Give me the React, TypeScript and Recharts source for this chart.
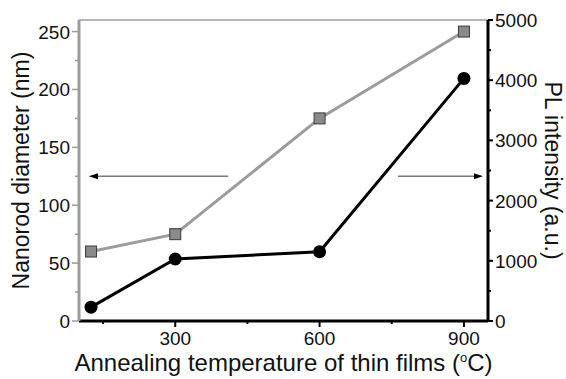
import React from 'react';
import { LineChart, Line, XAxis, YAxis, ReferenceLine, Label } from 'recharts';

// annealing temperature (°C), first point is the low-temperature film
const temperatures = [125, 300, 600, 900];
const nanorodDiameter = [60, 75, 175, 250]; // nm, left axis
const plIntensity = [230, 1030, 1150, 4030]; // a.u., right axis

const xTicks = [150, 300, 450, 600, 750, 900];
const xLabelled = [300, 600, 900];
const leftTicks = [0, 25, 50, 75, 100, 125, 150, 175, 200, 225, 250];
const rightTicks = [0, 500, 1000, 1500, 2000, 2500, 3000, 3500, 4000, 4500, 5000];

// arrows pointing to the axis each curve belongs to (data units, left axis)
const leftArrow = [{ x: 410, y: 125 }, { x: 123, y: 125 }];
const rightArrow = [{ x: 763, y: 125 }, { x: 937, y: 125 }];

const data = temperatures.map((t, i) => ({
  temp: t,
  diameter: nanorodDiameter[i],
  pl: plIntensity[i],
}));

const FONT = '"Liberation Sans", Arial, sans-serif';
const GRAY = '#9c9c9c';

const LeftTick = (props: any) => {
  const { x, y, payload } = props;
  const v = payload.value;
  const major = v % 50 === 0;
  const ax = x + 9;
  return (
    <g>
      <line x1={ax} x2={ax - (major ? 7 : 4)} y1={y} y2={y} stroke={GRAY} strokeWidth={1.5} />
      {major && (
        <text x={x} y={y} dy={7} textAnchor="end" fontSize={19} fontFamily={FONT} fill="#111">
          {v}
        </text>
      )}
    </g>
  );
};

const RightTick = (props: any) => {
  const { x, y, payload } = props;
  const v = payload.value;
  const major = v % 1000 === 0;
  const ax = x - 7;
  return (
    <g>
      <line x1={ax} x2={ax + (major ? 5 : 3)} y1={y} y2={y} stroke="#000" strokeWidth={2} />
      {major && (
        <text x={x} y={y} dy={7} textAnchor="start" fontSize={19} fontFamily={FONT} fill="#111">
          {v}
        </text>
      )}
    </g>
  );
};

const BottomTick = (props: any) => {
  const { x, y, payload } = props;
  const v = payload.value;
  const major = xLabelled.includes(v);
  const ay = y - 10;
  return (
    <g>
      <line x1={x} x2={x} y1={ay} y2={ay + (major ? 6 : 3)} stroke="#000" strokeWidth={2} />
      {major && (
        <text x={x} y={y} dy={14} textAnchor="middle" fontSize={19} fontFamily={FONT} fill="#111">
          {v}
        </text>
      )}
    </g>
  );
};

const SquareDot = (props: any) => {
  const { cx, cy } = props;
  if (cx == null || cy == null) return null;
  return <rect x={cx - 5.5} y={cy - 5.5} width={11} height={11} fill="#8a8a8a" stroke="#3a3a3a" strokeWidth={1} />;
};

const CircleDot = (props: any) => {
  const { cx, cy } = props;
  if (cx == null || cy == null) return null;
  return <circle cx={cx} cy={cy} r={6.5} fill="#000" />;
};

const XTitle = (props: any) => {
  const { viewBox } = props;
  const cx = viewBox.x + viewBox.width / 2;
  return (
    <text x={cx} y={viewBox.y + 50} textAnchor="middle" fontSize={24} fontFamily={FONT} fill="#111">
      Annealing temperature of thin films (
      <tspan fontSize={13} dy={-9}>o</tspan>
      <tspan dy={9}>C)</tspan>
    </text>
  );
};

const LeftTitle = (props: any) => {
  const { viewBox } = props;
  const cy = viewBox.y + viewBox.height / 2;
  const x = 29;
  return (
    <text x={x} y={cy} transform={`rotate(-90 ${x} ${cy})`} textAnchor="middle" fontSize={23} fontFamily={FONT} fill="#111">
      Nanorod diameter (nm)
    </text>
  );
};

const RightTitle = (props: any) => {
  const { viewBox } = props;
  const cy = viewBox.y + viewBox.height / 2;
  const x = 545;
  return (
    <text x={x} y={cy} transform={`rotate(90 ${x} ${cy})`} textAnchor="middle" fontSize={23} fontFamily={FONT} fill="#111">
      PL intensity (a.u.)
    </text>
  );
};

export default function App() {
  return (
    <div style={{ position: 'absolute', left: 0, top: 0, background: '#fff' }}>
      <LineChart width={566} height={379} data={data} margin={{ top: 20, right: 0, bottom: 0, left: 0 }}>
        <defs>
          <marker id="arrowHead" markerUnits="userSpaceOnUse" markerWidth={9} markerHeight={6} refX={8} refY={3} orient="auto">
            <path d="M0,0 L9,3 L0,6 z" fill="#000" />
          </marker>
        </defs>
        <XAxis
          dataKey="temp"
          type="number"
          domain={[100, 950]}
          ticks={xTicks}
          height={58}
          tickSize={6}
          tickMargin={4}
          tickLine={false}
          tick={<BottomTick />}
          axisLine={{ stroke: '#000', strokeWidth: 3 }}
          interval={0}
        >
          <Label content={<XTitle />} />
        </XAxis>
        <XAxis
          xAxisId="top"
          orientation="top"
          mirror
          type="number"
          domain={[100, 950]}
          ticks={xTicks}
          height={1}
          tickSize={5}
          tick={false}
          tickLine={{ stroke: GRAY, strokeWidth: 1.5 }}
          axisLine={{ stroke: GRAY, strokeWidth: 1.5 }}
          interval={0}
        />
        <YAxis
          yAxisId="left"
          type="number"
          domain={[0, 260]}
          ticks={leftTicks}
          width={79}
          tickSize={7}
          tickMargin={2}
          tickLine={false}
          tick={<LeftTick />}
          axisLine={{ stroke: GRAY, strokeWidth: 3 }}
          interval={0}
          allowDataOverflow
        >
          <Label content={<LeftTitle />} />
        </YAxis>
        <YAxis
          yAxisId="right"
          orientation="right"
          type="number"
          domain={[0, 5000]}
          ticks={rightTicks}
          width={78}
          tickSize={5}
          tickMargin={2}
          tickLine={false}
          tick={<RightTick />}
          axisLine={{ stroke: '#000', strokeWidth: 3 }}
          interval={0}
          allowDataOverflow
        >
          <Label content={<RightTitle />} />
        </YAxis>
        <ReferenceLine yAxisId="left" segment={leftArrow} stroke="#7a7a7a" strokeWidth={1.5} markerEnd="url(#arrowHead)" />
        <ReferenceLine yAxisId="left" segment={rightArrow} stroke="#7a7a7a" strokeWidth={1.5} markerEnd="url(#arrowHead)" />
        <Line
          yAxisId="left"
          type="linear"
          dataKey="diameter"
          stroke={GRAY}
          strokeWidth={3}
          dot={<SquareDot />}
          activeDot={false}
          isAnimationActive={false}
        />
        <Line
          yAxisId="right"
          type="linear"
          dataKey="pl"
          stroke="#000"
          strokeWidth={3}
          dot={<CircleDot />}
          activeDot={false}
          isAnimationActive={false}
        />
      </LineChart>
    </div>
  );
}
